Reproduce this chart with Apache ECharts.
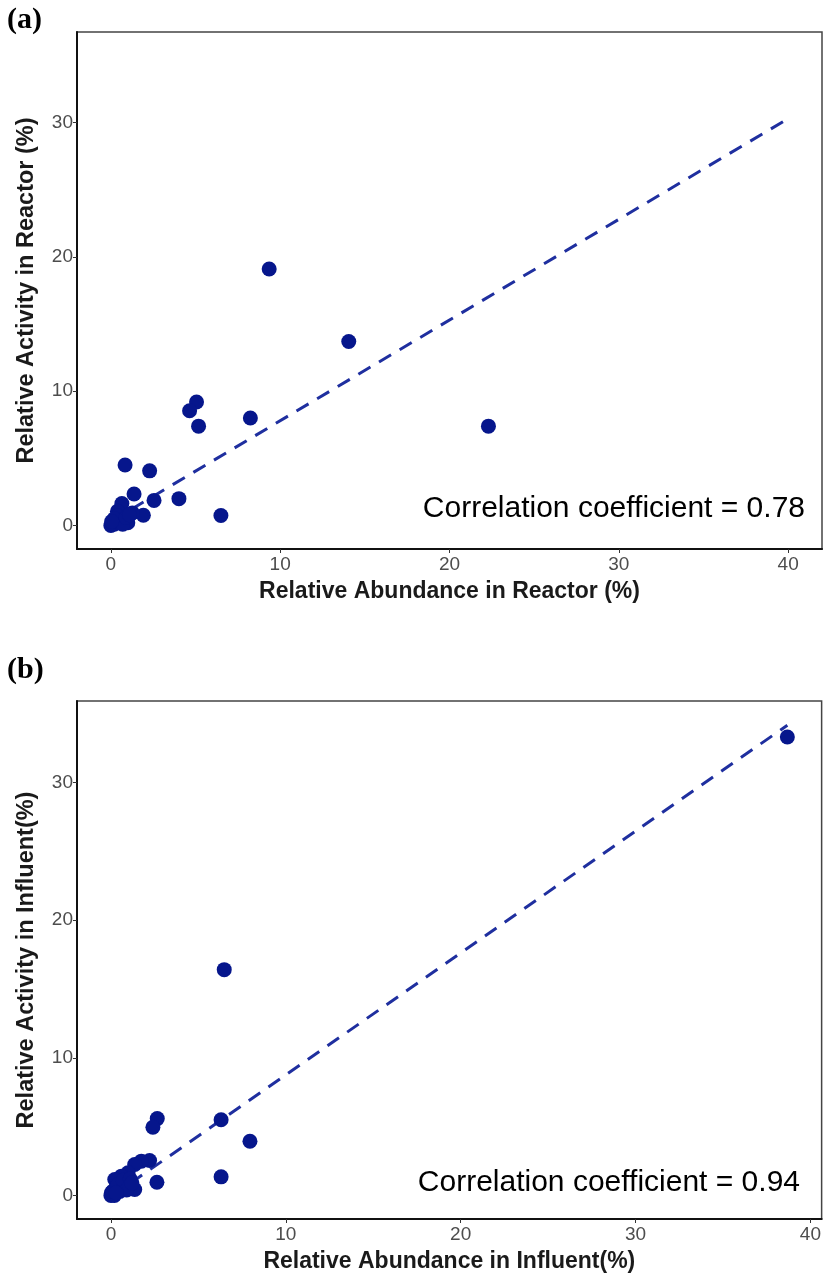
<!DOCTYPE html>
<html>
<head>
<meta charset="utf-8">
<script src="https://cdn.jsdelivr.net/npm/echarts@6/dist/echarts.min.js"></script>
<style>
html,body{margin:0;padding:0;background:#fff;}
#chart{width:824px;height:1274px;}
</style>
</head>
<body>
<div id="chart"></div>
<script>
// ---- Data ----
const reactorPoints = [
  [9.35, 19.1], [14.05, 13.7], [22.3, 7.4], [8.24, 8.0], [5.06, 9.2], [4.65, 8.55],
  [5.18, 7.4], [6.5, 0.75], [4.02, 2.0], [2.55, 1.87], [2.29, 4.07], [0.84, 4.5],
  [1.37, 2.35], [1.92, 0.76], [0.65, 1.63], [0.39, 1.06], [1.27, 0.94],
  [0.0, 0.0], [0.1, 0.2], [0.2, 0.1], [0.3, 0.4], [0.5, 0.2], [0.6, 0.5],
  [0.8, 0.3], [1.0, 0.2], [0.4, 0.7], [0.2, 0.5], [0.7, 0.1], [0.05, 0.3],
  [0.9, 0.6], [1.1, 0.8]
];
const reactorFit = [[0, 0.3], [40, 30.3]];
const influentPoints = [
  [38.68, 33.3], [6.48, 16.4], [2.65, 5.58], [2.4, 4.95], [6.3, 5.5], [7.95, 3.94],
  [6.3, 1.35], [2.63, 0.96], [2.21, 2.54], [1.74, 2.49], [1.36, 2.25], [0.98, 1.64],
  [0.6, 1.4], [1.36, 0.43], [0.22, 1.16], [0.03, 0.2], [0.79, 0.67], [0.2, 0.0],
  [0.0, 0.0], [0.1, 0.3], [0.3, 0.6], [0.5, 0.3], [0.4, 0.8], [0.7, 1.1],
  [1.1, 1.2], [0.9, 0.4], [0.3, 0.2], [1.2, 0.9]
];
const influentFit = [[0, -0.1], [38.68, 34.15]];
const tickValues = [0, 10, 20, 30, 40];
const yTickValues = [0, 10, 20, 30];
const panelLabels = ['(a)', '(b)'];
const xTitles = ['Relative Abundance in Reactor (%)', 'Relative Abundance in Influent(%)'];
const yTitles = ['Relative Activity in Reactor (%)', 'Relative Activity in Influent(%)'];
const corrTexts = ['Correlation coefficient = 0.78', 'Correlation coefficient = 0.94'];
const xRanges = [[-2, 42], [-1.94, 40.64]];
const yRanges = [[-1.75, 36.75], [-1.71, 35.91]];

// ---- Styles ----
const pointColor = '#06168c';
const lineColor = '#1f2f9f';
const font = 'Liberation Sans, Arial, Helvetica, sans-serif';

function makeX(i) {
  return {
    type: 'value', gridIndex: i, min: xRanges[i][0], max: xRanges[i][1],
    name: xTitles[i], nameLocation: 'middle', nameGap: 31,
    nameTextStyle: {fontFamily: font, fontWeight: 'bold', fontSize: 23, color: '#1a1a1a'},
    axisLine: {show: true, onZero: false, lineStyle: {color: '#111', width: 2}},
    axisTick: {show: true, length: 4, customValues: tickValues, lineStyle: {color: '#333', width: 1}},
    axisLabel: {customValues: tickValues, fontFamily: font, fontSize: 19, color: '#4d4d4d', margin: 6},
    splitLine: {show: false}
  };
}
function makeY(i) {
  return {
    type: 'value', gridIndex: i, min: yRanges[i][0], max: yRanges[i][1],
    name: yTitles[i], nameLocation: 'middle', nameGap: 38, nameRotate: 90,
    nameTextStyle: {fontFamily: font, fontWeight: 'bold', fontSize: 23.5, color: '#1a1a1a'},
    axisLine: {show: true, onZero: false, lineStyle: {color: '#111', width: 2}},
    axisTick: {show: true, length: 4, customValues: yTickValues, lineStyle: {color: '#333', width: 1}},
    axisLabel: {customValues: yTickValues, fontFamily: font, fontSize: 19, color: '#4d4d4d', margin: 4},
    splitLine: {show: false}
  };
}

const chart = echarts.init(document.getElementById('chart'), null, {renderer: 'canvas'});
chart.setOption({
  backgroundColor: '#fff',
  animation: false,
  grid: [
    {left: 77, top: 32, width: 745, height: 517, show: true, borderColor: '#444', borderWidth: 1.5, backgroundColor: '#fff'},
    {left: 77, top: 701, width: 745, height: 519, show: true, borderColor: '#444', borderWidth: 1.5, backgroundColor: '#fff'}
  ],
  xAxis: [makeX(0), makeX(1)],
  yAxis: [makeY(0), makeY(1)],
  graphic: [
    {type: 'text', left: 7, top: 5, style: {text: panelLabels[0], font: 'bold 30px "Liberation Serif", "Times New Roman", serif', fill: '#000'}},
    {type: 'text', left: 7, top: 655, style: {text: panelLabels[1], font: 'bold 30px "Liberation Serif", "Times New Roman", serif', fill: '#000'}},
    {type: 'text', right: 19, top: 494, style: {text: corrTexts[0], font: '30px ' + font, fill: '#000', textAlign: 'right'}},
    {type: 'text', right: 24, top: 1168, style: {text: corrTexts[1], font: '30px ' + font, fill: '#000', textAlign: 'right'}}
  ],
  series: [
    {type: 'line', xAxisIndex: 0, yAxisIndex: 0, data: reactorFit, symbol: 'none', silent: true,
     lineStyle: {color: lineColor, width: 3, type: [14, 10]}, z: 2},
    {type: 'scatter', xAxisIndex: 0, yAxisIndex: 0, data: reactorPoints, symbolSize: 15,
     itemStyle: {color: pointColor, opacity: 1}, z: 3},
    {type: 'line', xAxisIndex: 1, yAxisIndex: 1, data: influentFit, symbol: 'none', silent: true,
     lineStyle: {color: lineColor, width: 3, type: [14, 10]}, z: 2},
    {type: 'scatter', xAxisIndex: 1, yAxisIndex: 1, data: influentPoints, symbolSize: 15,
     itemStyle: {color: pointColor, opacity: 1}, z: 3}
  ]
});
</script>
</body>
</html>
